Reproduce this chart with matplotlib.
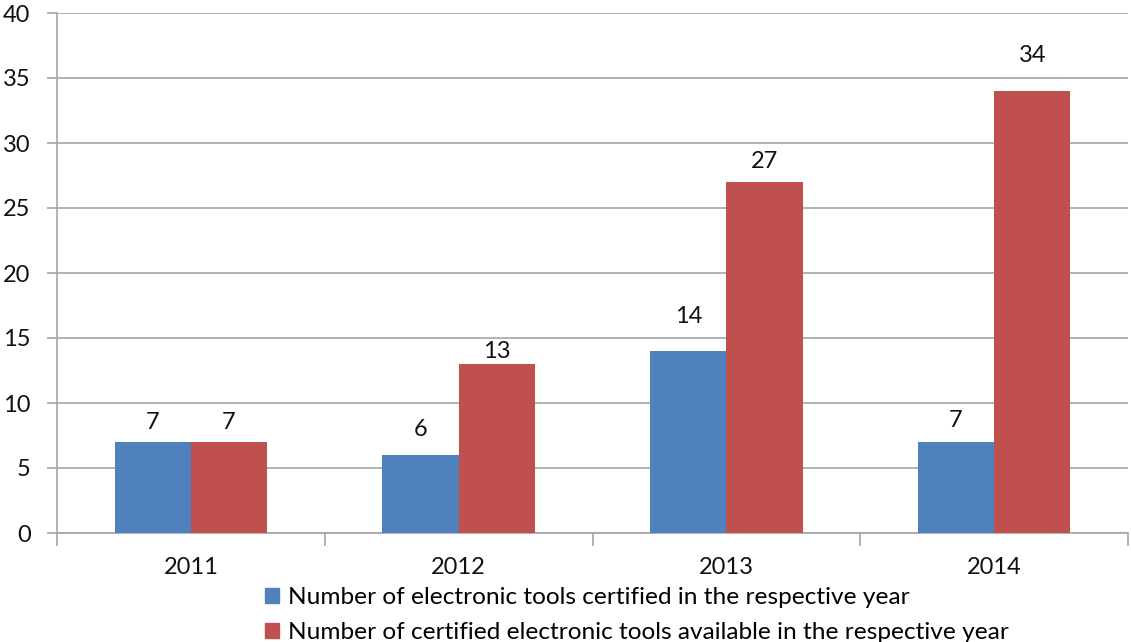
import matplotlib
matplotlib.use("Agg")
import matplotlib.pyplot as plt
from matplotlib.patches import Patch
import numpy as np

plt.rcParams['font.family'] = ['Lato', 'DejaVu Sans']

years = ["2011", "2012", "2013", "2014"]
certified = [7, 6, 14, 7]
available = [7, 13, 27, 34]
series_names = ["Number of electronic tools certified in the respective year",
                "Number of certified electronic tools available in the respective year"]
yticks = [0, 5, 10, 15, 20, 25, 30, 35, 40]

# label gap above bar top, in pixels (style only, as placed in the original)
gap_certified = [10, 16, 25, 12]
gap_available = [10, 3, 11, 26]

blue = "#4F81BD"
red = "#C0504D"
grid_c = "#A6A6A6"
FS = 17
LFS = 17.6

fig = plt.figure(figsize=(11.31, 6.42), dpi=100)
ax = fig.add_axes([57/1131, (642-533)/642, (1128-57)/1131, (533-13)/642])

x = np.arange(len(years))
w = 0.285
b1 = ax.bar(x - w/2, certified, w, color=blue, zorder=3)
b2 = ax.bar(x + w/2, available, w, color=red, zorder=3)

for bars, vals, gaps in ((b1, certified, gap_certified), (b2, available, gap_available)):
    for r, v, g in zip(bars, vals, gaps):
        ax.annotate(str(v), (r.get_x() + r.get_width()/2, v), xytext=(0, g*0.72 - 1),
                    textcoords="offset points", ha="center", va="bottom",
                    fontsize=FS, color="#111111")

ax.set_xlim(-0.5, len(years) - 0.5)
ax.set_ylim(0, 40)
ax.set_yticks(yticks)
ax.set_yticklabels([str(t) for t in yticks], fontsize=FS, color="#111111")
ax.yaxis.grid(True, color=grid_c, linewidth=1.2, zorder=0)
ax.set_axisbelow(True)

ax.set_xticks(x)
ax.set_xticklabels(years, fontsize=FS, color="#111111")
ax.tick_params(axis='x', which='major', length=0, pad=17)
ax.set_xticks(np.arange(-0.5, len(years), 1.0), minor=True)
ax.tick_params(axis='x', which='minor', length=9, color=grid_c, width=1.2)
ax.tick_params(axis='y', length=7, color=grid_c, width=1.2, pad=12)

for s in ("top", "right"):
    ax.spines[s].set_visible(False)
for s in ("left", "bottom"):
    ax.spines[s].set_color(grid_c)
    ax.spines[s].set_linewidth(1.2)

handles = [Patch(color=blue), Patch(color=red)]
fig.legend(handles, series_names, loc="upper left",
           bbox_to_anchor=(265/1131, 1 - 587/642), frameon=False,
           fontsize=LFS, handlelength=0.58, handleheight=0.58,
           handletextpad=0.38, labelspacing=0.58, borderpad=0, borderaxespad=0)

fig.savefig("out.png", dpi=100)
